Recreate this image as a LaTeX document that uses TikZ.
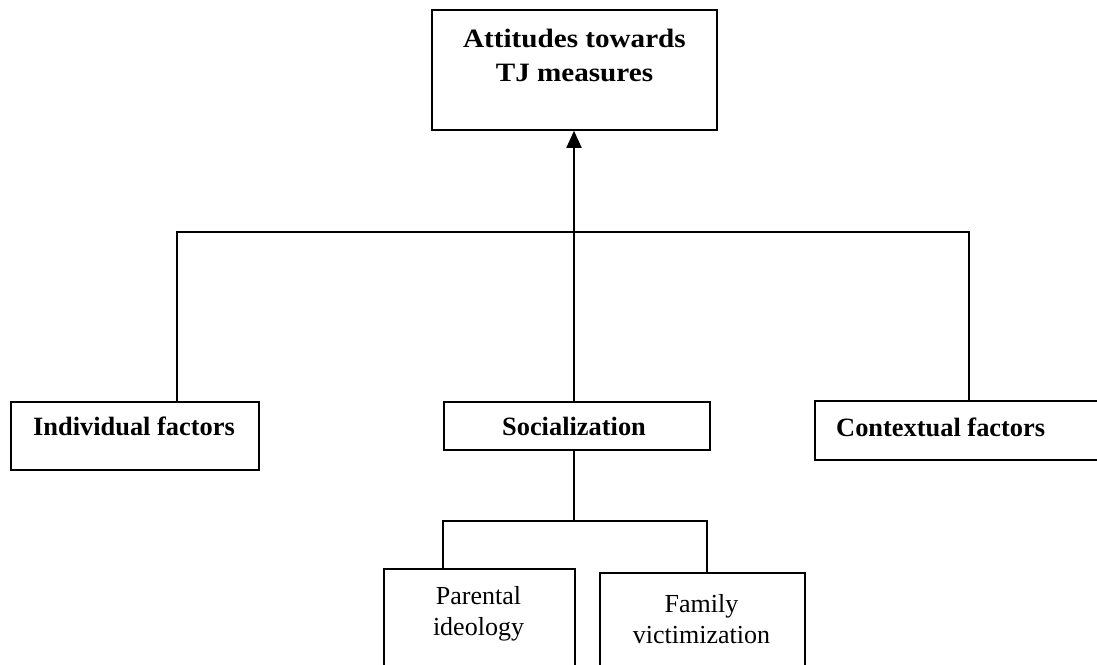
\documentclass[tikz,border=0pt]{standalone}
\usepackage{fontspec}
\setmainfont{Liberation Serif}
\newfontfamily\titlefont[FakeStretch=1.1]{Liberation Serif}
\usetikzlibrary{arrows.meta}
\tikzset{
  box/.style={draw, line width=1.8pt, inner sep=0pt, anchor=north west},
  link/.style={draw, line width=1.8pt},
  arrowlink/.style={draw, line width=1.8pt, -{Triangle[length=17pt,width=15pt]}},
  titletext/.style={anchor=base, inner sep=0pt, font=\titlefont\bfseries\fontsize{26.5}{33}\selectfont},
  boldtext/.style={anchor=base, inner sep=0pt, font=\bfseries\fontsize{26.4}{31}\selectfont},
  plaintext/.style={anchor=base, inner sep=0pt, font=\fontsize{26}{31}\selectfont}
}
\begin{document}
\begin{tikzpicture}[x=1pt,y=1pt]
\useasboundingbox (0,0) rectangle (1097,-664);
\clip (0,0) rectangle (1097,-664);
% boxes
\node[box, minimum width=285pt, minimum height=120pt] (top) at (431,-9) {};
\node[box, minimum width=248pt, minimum height=68pt] (ind) at (10,-401) {};
\node[box, minimum width=266pt, minimum height=48pt] (soc) at (443,-401) {};
\node[box, minimum width=300pt, minimum height=59pt] (ctx) at (814,-400) {};
\node[box, minimum width=191pt, minimum height=120pt] (par) at (383,-568) {};
\node[box, minimum width=205pt, minimum height=120pt] (fam) at (599,-572) {};
% texts
\node[titletext] (t1) at (574.5,-47) {Attitudes towards};
\node[titletext] (t2) at (574.5,-81.5) {TJ measures};
\node[boldtext] (tind) at (134,-435) {Individual factors};
\node[boldtext] (tsoc) at (574,-435) {Socialization};
\node[boldtext, anchor=base west] (tctx) at (836,-436) {Contextual factors};
\node[plaintext] (tpar1) at (478.5,-604) {Parental};
\node[plaintext] (tpar2) at (478.5,-635) {ideology};
\node[plaintext] (tfam1) at (701.5,-612) {Family};
\node[plaintext] (tfam2) at (701.5,-643) {victimization};
% connectors
\coordinate (hl) at (177,-232);
\coordinate (hc) at (574,-232);
\coordinate (hr) at (969,-232);
\coordinate (bl) at (443,-521);
\coordinate (bc) at (574,-521);
\coordinate (br) at (707,-521);
\path[arrowlink] (soc.north -| hc) -- (hc) -- (top.south -| hc);
\path[link] (ind.north -| hl) -- (hl) -- (hr) -- (ctx.north -| hr);
\path[link] (soc.south -| bc) -- (bc);
\path[link] (par.north -| bl) -- (bl) -- (br) -- (fam.north -| br);
\end{tikzpicture}
\end{document}
